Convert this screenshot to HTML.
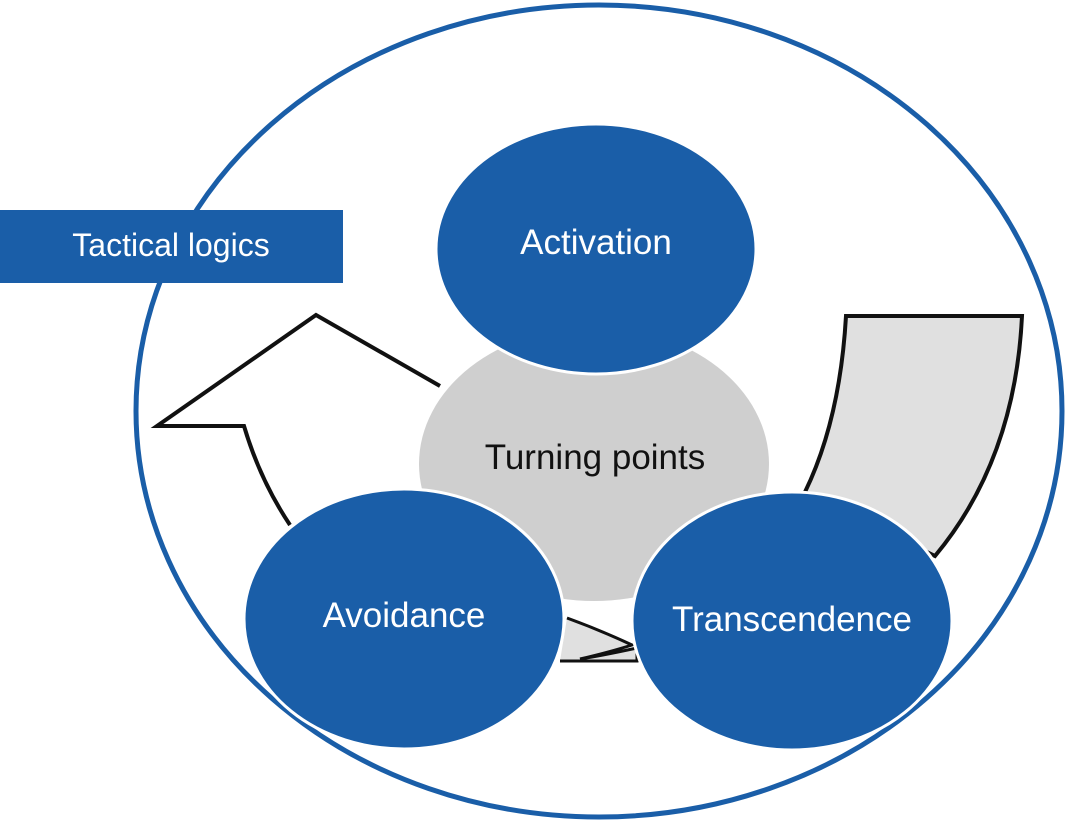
<!DOCTYPE html>
<html><head><meta charset="utf-8"><style>html,body{margin:0;padding:0;background:#fff}svg{display:block}</style></head>
<body>
<svg width="1067" height="821" viewBox="0 0 1067 821" xmlns="http://www.w3.org/2000/svg" font-family="Liberation Sans, sans-serif">
<rect width="1067" height="821" fill="#fff"/>
<ellipse cx="599" cy="411" rx="463" ry="406" fill="#fff" stroke="#1a5ea8" stroke-width="5"/>
<rect x="0" y="210" width="343" height="73" fill="#1a5ea8"/>
<text x="171" y="256" font-size="32" fill="#fff" text-anchor="middle">Tactical logics</text>
<path d="M846,316 L1022,316 Q1015,460 935,556 L805,492 Q840,420 846,316 Z" fill="#e0e0e0" stroke="#111" stroke-width="4"/>
<path d="M440,386 L316,315 L157,426 L244,426 Q260,480 290,525" fill="none" stroke="#111" stroke-width="4"/>
<path d="M560,661 L637,661 L637,648 Q600,656 580,659 Q610,652 632,645 Q600,630 567,618" fill="#e0e0e0" stroke="#111" stroke-width="3"/>
<ellipse cx="594" cy="464" rx="175" ry="137" fill="#cfcfcf"/>
<text x="595" y="469" font-size="35" fill="#111" text-anchor="middle">Turning points</text>
<ellipse cx="596" cy="249" rx="160" ry="125" fill="#1a5ea8" stroke="#fff" stroke-width="3"/>
<text x="596" y="254" font-size="35" fill="#fff" text-anchor="middle">Activation</text>
<ellipse cx="404" cy="619" rx="160" ry="130" fill="#1a5ea8" stroke="#fff" stroke-width="3"/>
<text x="404" y="627" font-size="35" fill="#fff" text-anchor="middle">Avoidance</text>
<ellipse cx="792" cy="621" rx="160" ry="129" fill="#1a5ea8" stroke="#fff" stroke-width="3"/>
<text x="792" y="631" font-size="35" fill="#fff" text-anchor="middle">Transcendence</text>
</svg>
</body></html>
